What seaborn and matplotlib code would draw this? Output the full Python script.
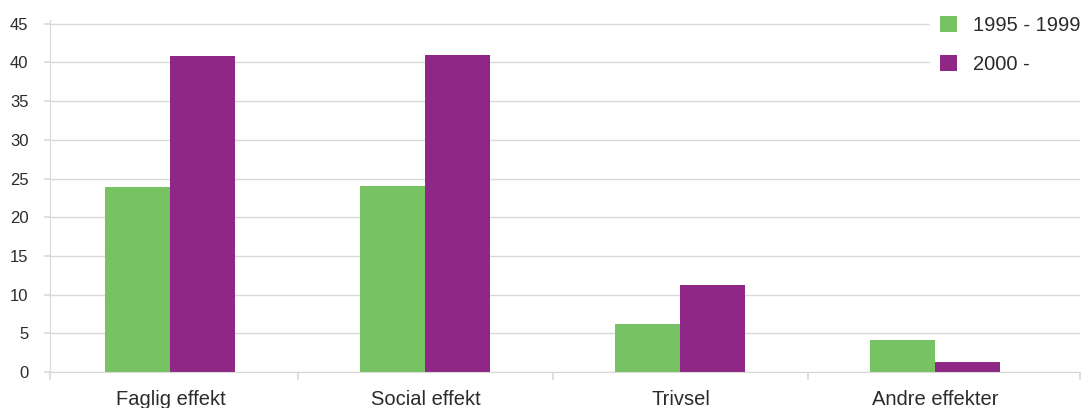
import numpy as np
import pandas as pd
import matplotlib
matplotlib.use("Agg")
import matplotlib.pyplot as plt
import seaborn as sns

categories = ["Faglig effekt", "Social effekt", "Trivsel", "Andre effekter"]
series_names = ["1995 - 1999", "2000 -"]
vals_1995 = [23.9, 24.0, 6.2, 4.1]
vals_2000 = [40.8, 40.9, 11.2, 1.25]
colors = ["#77c263", "#8e2785"]

df = pd.DataFrame({
    "kategori": categories * 2,
    "periode": [series_names[0]] * 4 + [series_names[1]] * 4,
    "andel": vals_1995 + vals_2000,
})

sns.set_style("white")
plt.rcParams["font.family"] = ["Liberation Sans", "DejaVu Sans"]

fig = plt.figure(figsize=(10.83, 4.08), dpi=100)
ax = fig.add_axes([50 / 1083, 1 - 372 / 408, 1030 / 1083, 352 / 408])

sns.barplot(data=df, x="kategori", y="andel", hue="periode", palette=colors,
            width=0.51, saturation=1, linewidth=0, ax=ax, legend=True)

x0, x1 = -0.4725, 3.567
ax.set_xlim(x0, x1)
ax.set_ylim(0, 45.48)
ax.set_yticks(np.arange(0, 50, 5))
ax.grid(axis="y", color="#d9d9d9", linewidth=1)
ax.set_axisbelow(True)
ax.set_xlabel("")
ax.set_ylabel("")

for s in ["top", "right"]:
    ax.spines[s].set_visible(False)
ax.spines["left"].set_color("#d9d9d9")
ax.spines["bottom"].set_color("#d9d9d9")

# category boundaries as ticks, labels at the centres
ax.set_xticks([x0, 0.5, 1.5, 2.5, x1])
ax.set_xticklabels([])
ax.set_xticks(np.arange(len(categories)), minor=True)
ax.set_xticklabels(categories, minor=True, fontsize=14.5, color="#2b2b2b")
ax.tick_params(axis="x", which="major", bottom=True, length=6, color="#d9d9d9", width=1.2)
ax.tick_params(axis="x", which="minor", bottom=False, length=0, pad=13)
ax.tick_params(axis="y", left=True, length=4.5, color="#d9d9d9", width=1.2,
               labelsize=12, labelcolor="#2b2b2b", pad=11)

leg = ax.legend(loc="upper left", bbox_to_anchor=(930 / 1083, 1 - 6 / 408),
                bbox_transform=fig.transFigure, frameon=True, fontsize=14.5,
                handlelength=0.85, handleheight=0.85, handletextpad=0.8,
                labelspacing=1.0, borderpad=0.5, borderaxespad=0)
leg.get_frame().set_edgecolor("white")
leg.get_frame().set_facecolor("white")
leg.get_frame().set_alpha(1)
leg.get_frame().set_boxstyle("square", pad=0)
for t in leg.get_texts():
    t.set_color("#2b2b2b")

fig.savefig("out.png", dpi=100)
